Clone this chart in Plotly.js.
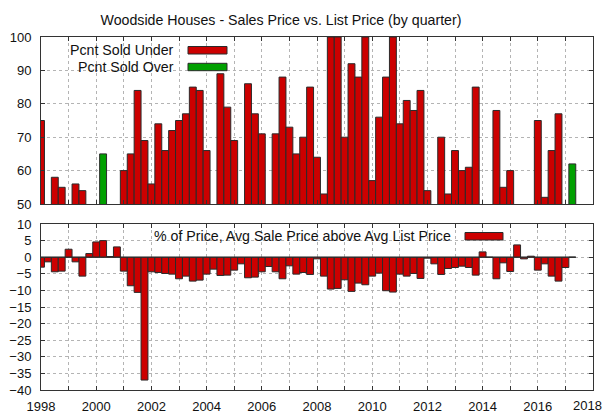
<!DOCTYPE html>
<html>
<head>
<meta charset="utf-8">
<script src="https://cdn.plot.ly/plotly-3.0.1.min.js"></script>
<style>html,body{margin:0;padding:0;background:#fff}#chart{width:605px;height:415px}</style>
</head>
<body>
<div id="chart"></div>
<script>
// ---- data ----
const firstQuarter = 1998;            // first quarter (x of first bar)
const quarterStep = 0.25;
// Percent of houses sold under list price (top panel), one per quarter
const pctSoldUnder = [
  75, null, 58, 55,     // 1998
  null, 56, 54, null,   // 1999
  null, null, null, null, // 2000
  60, 65, 84, 69,       // 2001
  56, 74, 66, 72,       // 2002
  75, 77, 85, 84,       // 2003
  66, null, 89, 79,     // 2004
  69, null, 86, 77,     // 2005
  71, null, 71, 88,     // 2006
  73, 65, 70, 85,       // 2007
  64, 53, 100, 100,     // 2008
  70, 92, 88, 100,      // 2009
  57, 76, 88, 100,      // 2010
  74, 81, 78, 84,       // 2011
  54, null, 70, 53,     // 2012
  66, 60, 61, 85,       // 2013
  null, null, 78, 55,   // 2014
  60, null, null, null, // 2015
  75, 52, 66, 77,       // 2016
  null, null            // 2017
];
// Percent of houses sold over list price (top panel)
const pctSoldOver = [
  null, null, null, null,
  null, null, null, null,
  null, 65, null, null,
  null, null, null, null,
  null, null, null, null,
  null, null, null, null,
  null, null, null, null,
  null, null, null, null,
  null, null, null, null,
  null, null, null, null,
  null, null, null, null,
  null, null, null, null,
  null, null, null, null,
  null, null, null, null,
  null, null, null, null,
  null, null, null, null,
  null, null, null, null,
  null, null, null, null,
  null, null, null, null,
  null, 62
];
// % of price: avg sale price above avg list price (bottom panel)
const pctAboveList = [
  -3.0, -1.4, -4.4, -4.2,   // 1998
  2.4, -1.4, -5.7, 1.1,     // 1999
  4.6, 5.0, 0.2, 3.1,       // 2000
  -4.2, -8.6, -10.6, -37,   // 2001
  -4.4, -4.6, -4.9, -5.1,   // 2002
  -6.5, -5.7, -7.2, -6.9,   // 2003
  -5.1, -3.6, -5.5, -5.4,   // 2004
  -3.9, -2.0, -6.2, -6.0,   // 2005
  -4.4, -2.8, -4.4, -6.5,   // 2006
  -2.6, -5.1, -4.6, -5.2,   // 2007
  -0.5, -5.7, -9.6, -9.4,   // 2008
  -6.8, -10.3, -7.8, -8.3,  // 2009
  -5.7, -4.8, -10.1, -10.5, // 2010
  -5.1, -5.7, -4.9, -6.4,   // 2011
  -0.3, -2.0, -5.2, -3.4,   // 2012
  -3.1, -2.7, -3.1, -5.4,   // 2013
  1.6, 0, -6.5, -1.7,       // 2014
  -4.3, 3.7, -0.5, 0.3,     // 2015
  -3.9, -2.0, -5.7, -7.2,   // 2016
  -3.1, 0                   // 2017
];
const xTickVals = [1998, 2000, 2002, 2004, 2006, 2008, 2010, 2012, 2014, 2016, 2018];
const xTickText = ['1998', '2000', '2002', '2004', '2006', '2008', '2010', '2012', '2014', '2016', '2018'];
const topTickVals = [50, 60, 70, 80, 90, 100];
const bottomTickVals = [-40, -35, -30, -25, -20, -15, -10, -5, 0, 5, 10];
const titleText = 'Woodside Houses - Sales Price vs. List Price (by quarter)';
const nameUnder = 'Pcnt Sold Under';
const nameOver = 'Pcnt Sold Over';
const nameAbove = '% of Price, Avg Sale Price above Avg List Price';

// ---- build ----
const quarters = pctSoldUnder.map((_, i) => firstQuarter + i * quarterStep);

const W = 605, H = 415, ML = 41, MR = 12, MT = 37, MB = 25;
const PW = W - ML - MR, PH = H - MT - MB;
const X = px => (px - ML) / PW;
const Y = py => (H - MB - py) / PH;

const RED = '#cc0000', GREEN = '#00a000', EDGE = '#2a2a2a';
const FAMILY = 'Liberation Sans, Arial, sans-serif';
const FONT = {family: FAMILY, size: 13, color: '#111'};
const TXT = {family: FAMILY, size: 14.2, color: '#111'};
const GRID = '#b4b4b4', AXIS = '#333';

// the last x label would run past the page edge: it is drawn as a right-aligned note instead
const lastLabel = xTickText[xTickText.length - 1];
const shownTickText = xTickText.map((t, i) => i === xTickText.length - 1 ? '' : t);

const barLine = {color: EDGE, width: 1};
const traces = [
  {type: 'bar', x: quarters, y: pctSoldUnder, width: quarterStep, xaxis: 'x2', yaxis: 'y2',
   marker: {color: RED, line: barLine}, showlegend: false, hoverinfo: 'x+y', name: nameUnder},
  {type: 'bar', x: quarters, y: pctSoldOver, width: quarterStep, xaxis: 'x2', yaxis: 'y2',
   marker: {color: GREEN, line: barLine}, showlegend: false, hoverinfo: 'x+y', name: nameOver},
  {type: 'bar', x: quarters, y: pctAboveList, width: quarterStep, xaxis: 'x', yaxis: 'y',
   marker: {color: RED, line: barLine}, showlegend: false, hoverinfo: 'x+y', name: nameAbove},
  // baseline along the bars (zero-height boxes in the original)
  {type: 'scatter', mode: 'lines', xaxis: 'x', yaxis: 'y',
   x: [quarters[0] - quarterStep / 2, quarters[quarters.length - 1] + quarterStep / 2], y: [0, 0],
   line: {color: EDGE, width: 1}, showlegend: false, hoverinfo: 'skip'}
];

const xCommon = {
  range: [1998, 2018], tickmode: 'array', tickvals: xTickVals, ticktext: shownTickText,
  ticks: 'inside', ticklen: 4, tickcolor: AXIS, mirror: 'allticks', showline: true,
  linecolor: AXIS, linewidth: 1, showgrid: true, gridcolor: GRID, griddash: 'dot', gridwidth: 1,
  zeroline: false, ticklabelstandoff: 4,
  minor: {tickmode: 'linear', tick0: 1998, dtick: 1, ticks: 'inside', ticklen: 4, tickcolor: AXIS,
          showgrid: true, gridcolor: GRID, griddash: 'dot', gridwidth: 1}
};
const yCommon = {
  ticks: 'inside', ticklen: 4, tickcolor: AXIS, mirror: 'allticks', showline: true,
  linecolor: AXIS, linewidth: 1, showgrid: true, gridcolor: GRID, griddash: 'dot', gridwidth: 1,
  zeroline: false, ticklabelstandoff: 6, tickmode: 'array', ticklabeloverflow: 'allow'
};

const layout = {
  width: W, height: H,
  margin: {l: ML, r: MR, t: MT, b: MB, pad: 0},
  paper_bgcolor: '#fff', plot_bgcolor: '#fff',
  font: FONT,
  barmode: 'overlay', bargap: 0,
  showlegend: false,
  title: {text: titleText, font: TXT, xref: 'container', yref: 'container',
          x: 281 / W, xanchor: 'center', y: 1 - 20 / H, yanchor: 'middle'},
  xaxis: Object.assign({}, xCommon, {anchor: 'y', domain: [0, 1]}),
  xaxis2: Object.assign({}, xCommon, {anchor: 'y2', matches: 'x', showticklabels: false}),
  yaxis: Object.assign({}, yCommon, {anchor: 'x', domain: [0, Y(224)], range: [-40, 10],
          tickvals: bottomTickVals}),
  yaxis2: Object.assign({}, yCommon, {anchor: 'x2', domain: [Y(204), 1], range: [50, 100],
          tickvals: topTickVals}),
  shapes: [
    // key boxes (white, hide grid)
    {type: 'rect', xref: 'paper', yref: 'paper', x0: X(50), x1: X(233), y0: Y(73), y1: Y(38),
     fillcolor: '#fff', line: {width: 0}, layer: 'between'},
    {type: 'rect', xref: 'paper', yref: 'paper', x0: X(50), x1: X(512), y0: Y(246), y1: Y(225),
     fillcolor: '#fff', line: {width: 0}, layer: 'between'},
    // key samples
    {type: 'rect', xref: 'paper', yref: 'paper', x0: X(188), x1: X(227), y0: Y(54), y1: Y(46.5),
     fillcolor: RED, line: {color: EDGE, width: 1}, layer: 'above'},
    {type: 'rect', xref: 'paper', yref: 'paper', x0: X(188), x1: X(227), y0: Y(70.7), y1: Y(63.3),
     fillcolor: GREEN, line: {color: EDGE, width: 1}, layer: 'above'},
    {type: 'rect', xref: 'paper', yref: 'paper', x0: X(465), x1: X(503), y0: Y(240), y1: Y(232.5),
     fillcolor: RED, line: {color: EDGE, width: 1}, layer: 'above'}
  ],
  annotations: [
    {text: nameUnder, xref: 'paper', yref: 'paper', x: X(176), y: Y(49.5), xanchor: 'right',
     yanchor: 'middle', showarrow: false, font: TXT},
    {text: nameOver, xref: 'paper', yref: 'paper', x: X(176), y: Y(66.5), xanchor: 'right',
     yanchor: 'middle', showarrow: false, font: TXT},
    {text: nameAbove, xref: 'paper', yref: 'paper', x: X(453), y: Y(236), xanchor: 'right',
     yanchor: 'middle', showarrow: false, font: TXT},
    {text: lastLabel, xref: 'paper', yref: 'paper', x: X(604), y: Y(405), xanchor: 'right',
     yanchor: 'middle', showarrow: false, font: FONT, xshift: 0}
  ]
};

Plotly.newPlot('chart', traces, layout, {displayModeBar: false, staticPlot: true});
</script>
</body>
</html>
